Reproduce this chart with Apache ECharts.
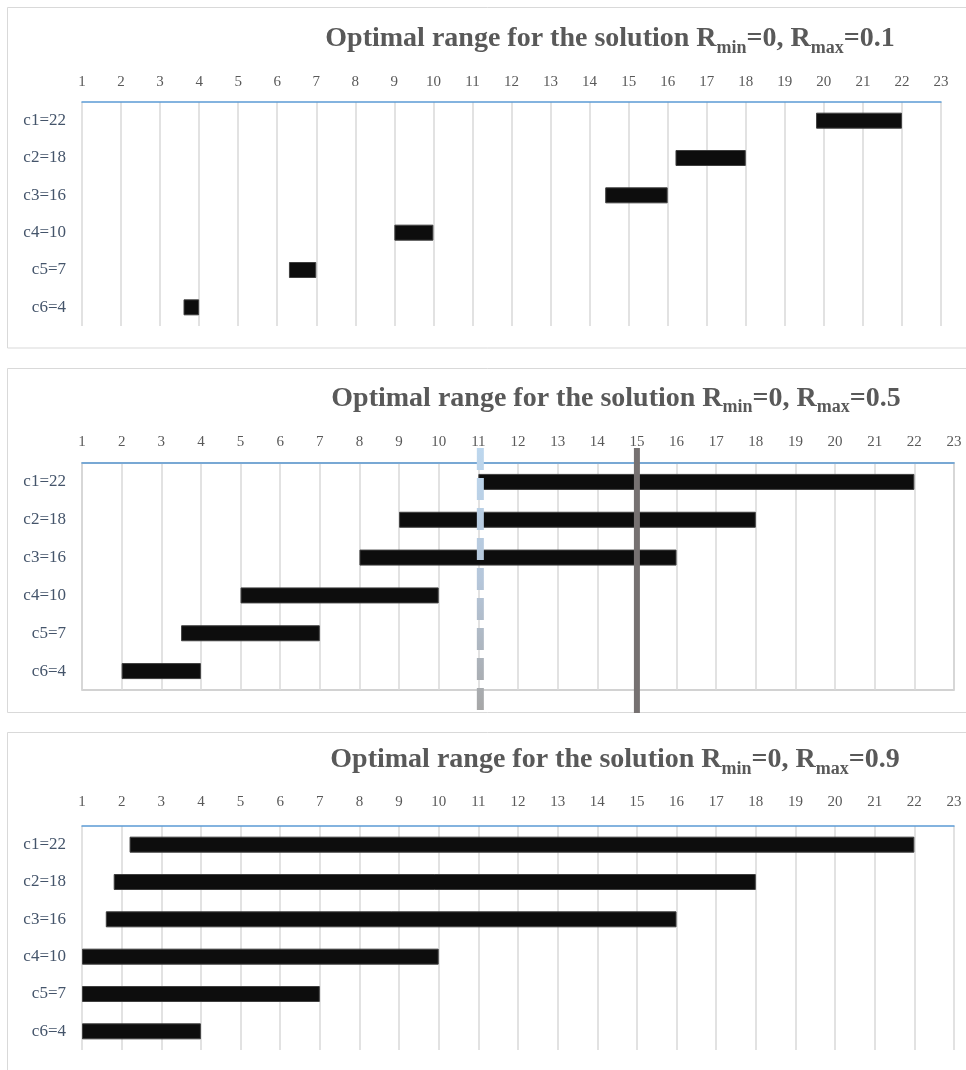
<!DOCTYPE html>
<html>
<head>
<meta charset="utf-8">
<script src="https://cdn.jsdelivr.net/npm/echarts@6/dist/echarts.min.js"></script>
<style>html,body{margin:0;padding:0;background:#fff;}#chart{width:966px;height:1070px;}</style>
</head>
<body>
<div id="chart"></div>
<script>
// ---- data ----
const categories = ['c1=22', 'c2=18', 'c3=16', 'c4=10', 'c5=7', 'c6=4'];
const upperBound = [22, 18, 16, 10, 7, 4];
const lowerRmax01 = [19.8, 16.2, 14.4, 9, 6.3, 3.6];
const lowerRmax05 = [11, 9, 8, 5, 3.5, 2];
const lowerRmax09 = [2.2, 1.8, 1.6, 1, 1, 1];
const rmaxLabels = ['0.1', '0.5', '0.9'];
const dashedMarker = [11.05];
const solidMarker = [15];
const xTicks = { min: 1, max: 23, interval: 1 };

// ---- layout ----
const grids = [
  { left: 82, top: 102, width: 859, height: 224 },
  { left: 82, top: 463, width: 872, height: 227, show: true, borderColor: '#C4C4C4', borderWidth: 1.5 },
  { left: 82, top: 826, width: 872, height: 224 }
];
const labelMargins = [12, 13, 16];
const titleCenters = [[610, 39], [616, 398.5], [615, 760]];
const panels = [[7.5, 7.5, 980, 340.5], [7.5, 368.5, 980, 344], [7.5, 732.5, 980, 360]];
const lowers = [lowerRmax01, lowerRmax05, lowerRmax09];

const serif = 'Liberation Serif';

const xAxes = grids.map((g, i) => ({
  gridIndex: i, type: 'value', position: 'top',
  min: xTicks.min, max: xTicks.max, interval: xTicks.interval,
  axisLine: { show: true, lineStyle: { color: '#5B9BD5', width: 1.5 } },
  axisTick: { show: false },
  axisLabel: { color: '#595959', fontFamily: serif, fontSize: 15, margin: labelMargins[i] },
  splitLine: { show: true, lineStyle: { color: '#D9D9D9', width: 1.5 } }
}));
const yAxes = grids.map((g, i) => ({
  gridIndex: i, type: 'category', inverse: true, data: categories,
  axisLine: { show: false }, axisTick: { show: false },
  axisLabel: { color: '#44546A', fontFamily: serif, fontSize: 17, margin: 16 },
  splitLine: { show: false }
}));

const series = [];
lowers.forEach((lo, i) => {
  series.push({
    type: 'bar', xAxisIndex: i, yAxisIndex: i, stack: 'p' + i, silent: true,
    barWidth: 16, itemStyle: { color: 'rgba(0,0,0,0)' }, data: lo
  });
  series.push({
    type: 'bar', xAxisIndex: i, yAxisIndex: i, stack: 'p' + i, barWidth: 16,
    itemStyle: { color: '#0D0D0D', borderColor: '#3F3F3F', borderWidth: 1 },
    data: upperBound.map((u, k) => +(u - lo[k]).toFixed(3))
  });
});

function vline(dashed) {
  return function (params, api) {
    const x = api.coord([api.value(0), 0])[0];
    const cs = params.coordSys;
    const y1 = cs.y - 15, y2 = cs.y + cs.height + 23;
    const stroke = dashed
      ? new echarts.graphic.LinearGradient(0, y1, 0, y2, [
          { offset: 0, color: '#BDD7EE' }, { offset: 0.5, color: '#B5C6DA' }, { offset: 1, color: '#A6A6A6' }], true)
      : '#767171';
    return {
      type: 'line',
      shape: { x1: x, y1: y1, x2: x, y2: y2 },
      style: { stroke: stroke, lineWidth: dashed ? 7 : 6, lineDash: dashed ? [22, 8] : null }
    };
  };
}
series.push({ type: 'custom', xAxisIndex: 1, yAxisIndex: 1, clip: false, z: 5, silent: true,
  renderItem: vline(true), data: dashedMarker.map(v => [v, 0]) });
series.push({ type: 'custom', xAxisIndex: 1, yAxisIndex: 1, clip: false, z: 5, silent: true,
  renderItem: vline(false), data: solidMarker.map(v => [v, 0]) });

const graphics = [];
panels.forEach(p => graphics.push({
  type: 'rect', silent: true, z: -10,
  shape: { x: p[0], y: p[1], width: p[2], height: p[3] },
  style: { fill: 'none', stroke: '#D9D9D9', lineWidth: 1 }
}));
rmaxLabels.forEach((r, i) => graphics.push({
  type: 'text', x: titleCenters[i][0], y: titleCenters[i][1], silent: true,
  style: {
    text: '{a|Optimal range for the solution R}{s|min}{a|=0, R}{s|max}{a|=' + r + '}',
    align: 'center', verticalAlign: 'middle',
    rich: {
      a: { fontFamily: serif, fontWeight: 'bold', fontSize: 28, fill: '#595959', color: '#595959', lineHeight: 36, verticalAlign: 'middle' },
      s: { fontFamily: serif, fontWeight: 'bold', fontSize: 18, fill: '#595959', color: '#595959', lineHeight: 18, verticalAlign: 'bottom' }
    }
  }
}));

const chart = echarts.init(document.getElementById('chart'), null, { renderer: 'canvas' });
chart.setOption({
  animation: false,
  backgroundColor: '#fff',
  grid: grids.map(g => Object.assign({ outerBoundsMode: 'none', containLabel: false }, g)),
  xAxis: xAxes,
  yAxis: yAxes,
  series: series,
  graphic: graphics
});
</script>
</body>
</html>
